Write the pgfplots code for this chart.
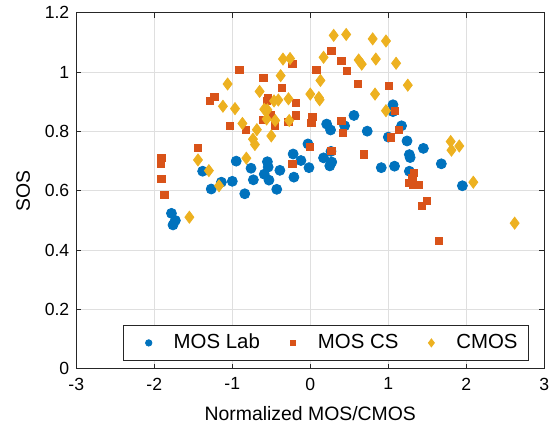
\documentclass[border=0pt]{standalone}
\usepackage{pgfplots}
\pgfplotsset{compat=1.18}
\usepackage{fontspec}
\setmainfont{Liberation Sans}
\definecolor{mblue}{RGB}{0,114,189}
\definecolor{morange}{RGB}{217,83,25}
\definecolor{myellow}{RGB}{237,177,32}
\definecolor{mgrid}{RGB}{223,223,223}
\definecolor{maxis}{RGB}{38,38,38}
\pgfplotsset{
  smallmark/.style={legend image code/.code={
    \path[draw=none, fill=none] (0bp,-2bp) rectangle (19.5bp,2bp);
    \draw[##1, mark size=#1] plot coordinates {(7bp,0bp)};}},
}
\begin{document}
\begin{tikzpicture}
\useasboundingbox (-38.15bp,-30.6bp) rectangle (239.85bp,184.4bp);
\begin{axis}[
  at={(0,0)}, anchor=south west,
  scale only axis,
  width=234bp, height=178bp,
  xmin=-3, xmax=3, ymin=0, ymax=1.2,
  xtick={-3,-2,...,3},
  ytick={0,0.2,0.4,0.6,0.8,1,1.2},
  yticklabels={0,0.2,0.4,0.6,0.8,1,1.2},
  xticklabels={-3,-2,-1,0,1,2,3},
  grid=major,
  grid style={mgrid, line width=0.4pt},
  axis line style={maxis, line width=0.4pt},
  tick style={maxis, line width=0.4pt},
  tick align=inside,
  major tick length=2.5bp,
  ticklabel style={font=\fontsize{8.8bp}{10bp}\selectfont, text=black},
  xticklabel style={yshift=-1bp},
  xlabel={Normalized MOS/CMOS},
  ylabel={SOS},
  label style={font=\fontsize{9.7bp}{11bp}\selectfont},
  xlabel style={at={(axis description cs:0.5,0)}, anchor=center, yshift=-22.5bp},
  ylabel style={at={(axis description cs:-0.1137,0.5)}, anchor=center},
  legend columns=3,
  legend style={at={(rel axis cs:0.9673,0.0225)}, anchor=south east,
    font=\fontsize{10.2bp}{12bp}\selectfont, draw=maxis, line width=0.4pt,
    inner xsep=5.5bp, inner ysep=4.3bp,
    nodes={inner xsep=0bp, inner ysep=0bp},
    /tikz/every even column/.append style={column sep=9.5bp}},
  legend cell align=left,
]
\addplot[only marks, mark=*, mark size=2.5bp, color=mblue, mark options={draw=none, fill=mblue}, smallmark=1.6bp] coordinates {
(-1.78,0.524) (-1.73,0.50) (-1.76,0.485) (-1.38,0.666) (-0.95,0.70)
(-1.14,0.629) (-1.27,0.606) (-1.00,0.632) (-0.76,0.676) (-0.73,0.637)
(-0.84,0.59) (-0.55,0.698) (-0.54,0.68) (-0.59,0.656) (-0.53,0.636)
(-0.43,0.605) (-0.39,0.669) (-0.21,0.646) (-0.22,0.724) (-0.12,0.702)
(-0.03,0.758) (-0.017,0.678) (0.17,0.711) (0.265,0.733) (0.275,0.697)
(0.25,0.684) (0.21,0.825) (0.26,0.805) (0.44,0.819) (0.56,0.854)
(0.73,0.801) (0.91,0.678) (1.06,0.89) (1.06,0.867) (1.0,0.781)
(1.17,0.819) (1.24,0.768) (1.45,0.743) (1.27,0.722) (1.28,0.712)
(1.08,0.683) (1.27,0.666) (1.68,0.691) (1.95,0.617)
};
\addlegendentry{MOS Lab}
\addplot[only marks, mark=square*, mark size=1.8bp, color=morange, mark options={draw=none, fill=morange}, smallmark=1.25bp] coordinates {
(-1.91,0.71) (-1.92,0.69) (-1.91,0.639) (-1.87,0.585) (-1.44,0.744)
(-1.29,0.902) (-1.23,0.916) (-1.03,0.818) (-0.91,1.007) (-0.83,0.804)
(-0.60,0.98) (-0.56,0.904) (-0.54,0.912) (-0.61,0.839) (-0.50,0.857)
(-0.45,0.82) (-0.36,0.946) (-0.28,0.833) (-0.23,1.027) (-0.18,0.895)
(-0.18,0.854) (-0.23,0.69) (0.026,0.85) (0.013,0.828) (0.077,1.007)
(0.0,0.747) (0.27,1.072) (0.27,0.735) (0.40,1.037) (0.47,1.003)
(0.40,0.836) (0.42,0.794) (0.615,0.96) (0.69,0.723) (1.01,0.954)
(1.08,0.869) (1.14,0.805) (1.03,0.78) (1.33,0.661) (1.31,0.642)
(1.26,0.626) (1.32,0.62) (1.39,0.62) (1.49,0.566) (1.43,0.548)
(1.65,0.43)
};
\addlegendentry{MOS CS}
\addplot[only marks, mark=diamond*, mark size=3bp, color=myellow, mark options={draw=none, fill=myellow}, smallmark=2bp] coordinates {
(-1.55,0.511) (-1.44,0.704) (-1.30,0.668) (-1.17,0.617) (-1.06,0.96)
(-1.12,0.885) (-0.965,0.877) (-0.87,0.827) (-0.82,0.71) (-0.735,0.774)
(-0.71,0.756) (-0.685,0.806) (-0.65,0.935) (-0.50,0.785) (-0.45,0.837)
(-0.56,0.842) (-0.27,0.837) (-0.59,0.875) (-0.55,0.873) (-0.465,0.903)
(-0.41,0.906) (-0.28,0.91) (-0.38,0.988) (-0.35,1.044) (-0.26,1.046)
(0.0,0.926) (0.11,0.914) (0.12,0.907) (0.13,0.972) (0.17,1.05)
(0.30,1.124) (0.46,1.127) (0.62,1.041) (0.66,1.027) (0.80,1.112)
(0.97,1.105) (0.84,1.044) (1.10,1.03) (0.83,0.926) (1.25,0.956)
(0.97,0.87) (1.80,0.766) (1.91,0.751) (1.81,0.737) (2.09,0.629)
(2.62,0.491)
};
\addlegendentry{CMOS}
\end{axis}
\end{tikzpicture}
\end{document}
